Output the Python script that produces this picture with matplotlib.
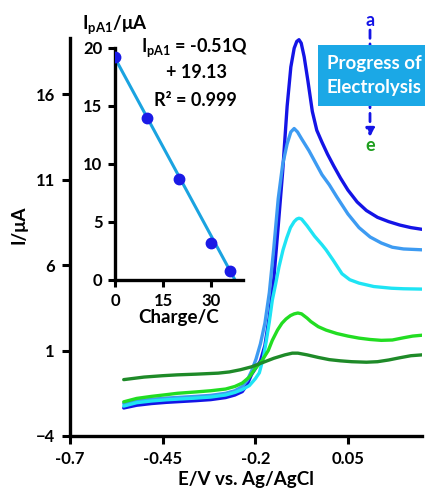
import matplotlib
matplotlib.use("Agg")
import matplotlib.pyplot as plt
from matplotlib.patches import Rectangle

plt.rcParams['font.family'] = ['Lato', 'DejaVu Sans']
plt.rcParams['font.weight'] = 'bold'
plt.rcParams['mathtext.fontset'] = 'custom'
plt.rcParams['mathtext.rm'] = 'Lato:bold'
plt.rcParams['mathtext.bf'] = 'Lato:bold'
plt.rcParams['mathtext.it'] = 'Lato:bold'

# ---------------- data ----------------
E_a = [-0.555, -0.52, -0.48, -0.44, -0.40, -0.36, -0.32, -0.28, -0.255, -0.235, -0.222, -0.21,
       -0.198, -0.186, -0.174, -0.162, -0.15, -0.138, -0.126, -0.114, -0.104, -0.095, -0.088,
       -0.082, -0.076, -0.068, -0.058, -0.046, -0.034, -0.02, -0.005, 0.012, 0.03, 0.05, 0.075,
       0.10, 0.13, 0.16, 0.19, 0.22, 0.25]
I_a = [-2.36, -2.2, -2.1, -2.03, -1.98, -1.93, -1.87, -1.75, -1.6, -1.4, -1.0, -0.4,
       0.0, 0.4, 1.3, 3.0, 5.2, 8.3, 11.5, 15.3, 17.6, 18.7, 19.1,
       19.2, 19.0, 18.2, 16.8, 15.0, 13.9, 13.2, 12.5, 11.8, 11.1, 10.4, 9.7,
       9.2, 8.8, 8.55, 8.35, 8.2, 8.1]

E_b = [-0.555, -0.52, -0.48, -0.44, -0.40, -0.36, -0.32, -0.28, -0.255, -0.235, -0.222, -0.21,
       -0.198, -0.186, -0.174, -0.162, -0.15, -0.138, -0.126, -0.114, -0.104, -0.095, -0.086,
       -0.075, -0.055, -0.04, -0.02, 0.0, 0.02, 0.05, 0.08, 0.11, 0.14, 0.17, 0.2, 0.25]
I_b = [-2.1, -1.95, -1.85, -1.78, -1.73, -1.68, -1.62, -1.5, -1.35, -1.1, -0.75, -0.2,
       0.5, 1.4, 2.6, 4.4, 7.0, 9.9, 11.9, 13.1, 13.8, 14.0, 13.8,
       13.4, 12.7, 12.1, 11.3, 10.7, 10.0, 9.0, 8.2, 7.65, 7.3, 7.05, 6.95, 6.9]

E_c = [-0.555, -0.52, -0.48, -0.44, -0.40, -0.36, -0.32, -0.28, -0.255, -0.235, -0.216, -0.2,
       -0.189, -0.178, -0.17, -0.162, -0.154, -0.145, -0.136, -0.125, -0.115, -0.105, -0.095,
       -0.088, -0.082, -0.075, -0.06, -0.04, -0.02, -0.009, 0.01, 0.034, 0.055, 0.08, 0.12,
       0.168, 0.2, 0.25]
I_c = [-2.25, -2.05, -1.95, -1.88, -1.83, -1.78, -1.72, -1.6, -1.45, -1.28, -1.05, -0.65,
       -0.3, 0.6, 1.6, 2.7, 3.95, 4.9, 5.9, 6.9, 7.6, 8.2, 8.55,
       8.7, 8.75, 8.7, 8.3, 7.7, 7.2, 6.9, 6.3, 5.5, 5.15, 4.95, 4.75,
       4.65, 4.62, 4.6]

E_d = [-0.555, -0.52, -0.48, -0.44, -0.41, -0.36, -0.32, -0.28, -0.255, -0.235, -0.216, -0.2,
       -0.181, -0.165, -0.154, -0.14, -0.128, -0.117, -0.105, -0.095, -0.085, -0.075, -0.06,
       -0.05, -0.03, -0.009, 0.02, 0.05, 0.08, 0.11, 0.14, 0.17, 0.2, 0.225, 0.25]
I_d = [-2.0, -1.8, -1.68, -1.58, -1.5, -1.42, -1.35, -1.25, -1.1, -0.9, -0.55, -0.05,
       0.44, 1.0, 1.6, 2.2, 2.6, 2.85, 3.05, 3.15, 3.2, 3.15, 2.9,
       2.7, 2.4, 2.2, 2.0, 1.85, 1.73, 1.65, 1.6, 1.62, 1.75, 1.85, 1.9]

E_e = [-0.555, -0.5, -0.45, -0.41, -0.36, -0.3, -0.27, -0.24, -0.21, -0.18, -0.15, -0.12,
       -0.1, -0.085, -0.06, -0.03, 0.0, 0.03, 0.06, 0.1, 0.13, 0.16, 0.19, 0.22, 0.25]
I_e = [-0.7, -0.55, -0.47, -0.42, -0.38, -0.32, -0.25, -0.12, 0.05, 0.3, 0.55, 0.75,
       0.85, 0.85, 0.75, 0.6, 0.47, 0.4, 0.35, 0.32, 0.35, 0.45, 0.58, 0.7, 0.75]

main_xticks = [-0.7, -0.45, -0.2, 0.05]
main_xticklabels = ['-0.7', '-0.45', '-0.2', '0.05']
main_yticks = [-4, 1, 6, 11, 16]

charge = [0, 10, 20, 30, 36]
ipa1 = [19.2, 14.0, 8.7, 3.2, 0.8]
fit_slope = -0.51
fit_intercept = 19.13
fit_q = [0, 37.5]
inset_xticks = [0, 15, 30]
inset_yticks = [0, 5, 10, 15, 20]

colors = ['#1414E6', '#3D9BF2', '#1EE4F4', '#22DD22', '#1E8A28']

# ---------------- figure ----------------
W, H = 425, 493
fig = plt.figure(figsize=(W / 100, H / 100), dpi=100)

def fx(px):
    return px / W

def fy(py):
    return 1 - py / H

ax = fig.add_axes([fx(70), fy(436), fx(422) - fx(70), fy(38) - fy(436)])
for E, I, c in zip([E_a, E_b, E_c, E_d, E_e], [I_a, I_b, I_c, I_d, I_e], colors):
    ax.plot(E, I, color=c, lw=2.4, solid_capstyle='round')
ax.set_xlim(-0.7, 0.25)
ax.set_ylim(-4, 19.3)
ax.set_xticks(main_xticks)
ax.set_xticklabels(main_xticklabels)
ax.set_yticks(main_yticks)
for s in ['top', 'right']:
    ax.spines[s].set_visible(False)
for s in ['left', 'bottom']:
    ax.spines[s].set_linewidth(2.4)
ax.tick_params(direction='out', width=2.2, length=6, labelsize=12, pad=5)
for lab in ax.get_xticklabels() + ax.get_yticklabels():
    lab.set_fontweight('bold')
ax.set_xlabel('E/V vs. Ag/AgCl', fontsize=13.5, fontweight='bold', labelpad=3)
ax.set_ylabel('I/μA', fontsize=13.5, fontweight='bold')
ax.yaxis.set_label_coords(-0.12, 0.53)

# ---------------- inset ----------------
ins = fig.add_axes([fx(115), fy(280), fx(243) - fx(115), fy(48) - fy(280)])
ins.patch.set_alpha(0)
fit_i = [fit_slope * q + fit_intercept for q in fit_q]
ins.plot(fit_q, fit_i, color='#1AA3E0', lw=2.2, zorder=2)
ins.plot(charge, ipa1, 'o', color='#1A1AE6', ms=7.5, zorder=3)
ins.set_xlim(0, 40)
ins.set_ylim(0, 20)
ins.set_xticks(inset_xticks)
ins.set_yticks(inset_yticks)
for s in ['top', 'right']:
    ins.spines[s].set_visible(False)
for s in ['left', 'bottom']:
    ins.spines[s].set_linewidth(2.4)
ins.tick_params(direction='out', width=2.2, length=5, labelsize=12, pad=4)
for lab in ins.get_xticklabels() + ins.get_yticklabels():
    lab.set_fontweight('bold')
ins.set_xlabel('Charge/C', fontsize=13.5, fontweight='bold', labelpad=0)
fig.text(fx(82), fy(25), r'$\mathrm{I_{pA1}}$/μA', fontsize=13.5, fontweight='bold',
         ha='left', va='center')

fig.text(fx(195), fy(48), r'$\mathrm{I_{pA1}}$ = -0.51Q', fontsize=13, fontweight='bold',
         ha='center', va='center')
fig.text(fx(196), fy(73), '+ 19.13', fontsize=13, fontweight='bold', ha='center', va='center')
fig.text(fx(195), fy(100), 'R² = 0.999', fontsize=13, fontweight='bold', ha='center', va='center')

# ---------------- progress box ----------------
fig.patches.append(Rectangle((fx(318), fy(106)), fx(430) - fx(318), fy(45) - fy(106),
                             transform=fig.transFigure, facecolor='#1BA8E6',
                             edgecolor='none', zorder=5))
fig.text(fx(327), fy(63), 'Progress of', fontsize=13.5, fontweight='bold', color='white',
         ha='left', va='center', zorder=6)
fig.text(fx(327), fy(88), 'Electrolysis', fontsize=13.5, fontweight='bold', color='white',
         ha='left', va='center', zorder=6)
fig.text(fx(370), fy(21), 'a', fontsize=13, fontweight='bold', color='#1414E6',
         ha='center', va='center')
fig.text(fx(370), fy(145), 'e', fontsize=13, fontweight='bold', color='#1E9E1E',
         ha='center', va='center')
ann = ax.annotate('', xy=(fx(370), fy(137)), xytext=(fx(370), fy(30)),
                  xycoords='figure fraction', textcoords='figure fraction',
                  arrowprops=dict(arrowstyle='-|>', color='#1414E6', lw=2,
                                  linestyle=(0, (3, 2)), mutation_scale=12,
                                  shrinkA=0, shrinkB=0))
ann.set_zorder(4)

fig.savefig('out.png', dpi=100)
